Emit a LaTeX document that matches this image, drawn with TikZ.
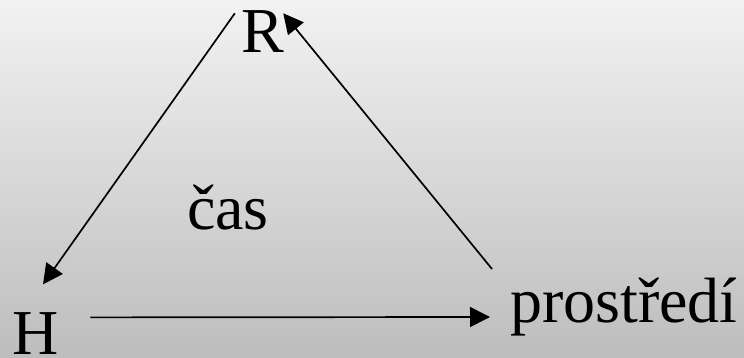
\documentclass[tikz,border=0pt]{standalone}
\usepackage{fontspec}
\setmainfont{Liberation Serif}
\usetikzlibrary{arrows.meta}
\definecolor{bgtop}{HTML}{F2F2F2}
\definecolor{bgbot}{HTML}{BDBDBD}

\begin{document}
\begin{tikzpicture}[
    x=1pt, y=1pt,
    every node/.style={font=\rmfamily\fontsize{64}{64}\selectfont, inner sep=0pt},
    lbl/.style={anchor=base},
    arr/.style={-{Triangle[length=20pt, width=20pt]}, line width=1.7pt}
  ]
  \fill[top color=bgtop, bottom color=bgbot] (0,0) rectangle (744,358);
  \useasboundingbox (0,0) rectangle (744,358);

  \node[lbl] (R) at (263,305) {R};
  \node[lbl] (H) at (36,3) {H};
  \node[lbl, anchor=base west] (env) at (510,35) {prostředí};
  \node[lbl] (time) at (228,128) {čas};

  \draw[arr] ([shift={(-6.6,-2.4)}]R.north west) -- ([shift={(7,28.5)}]H.north);
  \draw[arr] ([shift={(31,-4.5)}]H.north east) -- ([shift={(-20,6)}]env.base west);
  \draw[arr] ([shift={(-18,54)}]env.base west) -- ([shift={(-1.3,-2.4)}]R.north east);
\end{tikzpicture}
\end{document}
